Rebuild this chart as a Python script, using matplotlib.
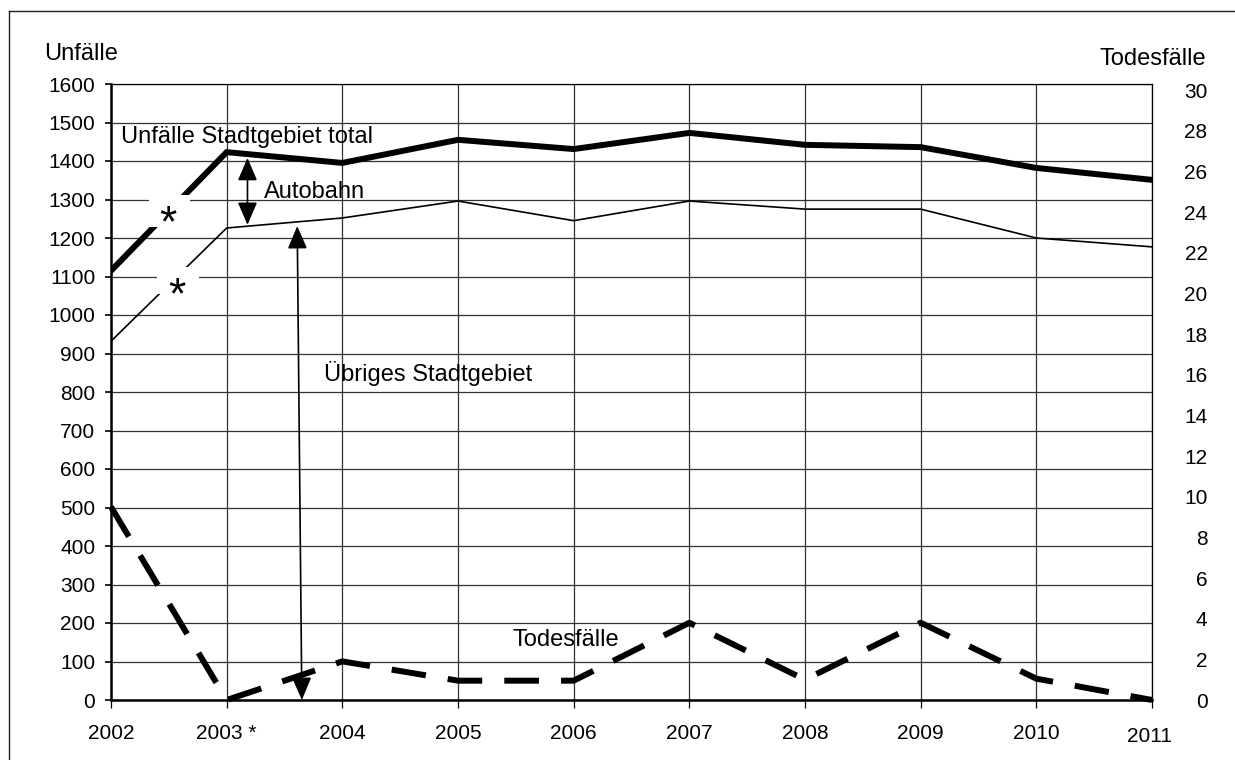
import matplotlib.pyplot as plt
from matplotlib.patches import Rectangle
from matplotlib.lines import Line2D
from matplotlib.transforms import ScaledTranslation
import numpy as np

plt.rcParams['font.family'] = ['Liberation Sans', 'DejaVu Sans']

years = [2002, 2003, 2004, 2005, 2006, 2007, 2008, 2009, 2010, 2011]
year_labels = ['2002', '2003 *', '2004', '2005', '2006', '2007', '2008', '2009', '2010', '2011']
unfaelle_total = [1115, 1423, 1395, 1455, 1431, 1473, 1442, 1436, 1382, 1351]
unfaelle_uebrige = [932, 1226, 1252, 1296, 1245, 1296, 1275, 1275, 1200, 1177]
todesfaelle = [9.5, 0, 1.9, 0.95, 0.95, 3.8, 1.0, 3.8, 1.05, 0]

W, H = 1235, 760
fig = plt.figure(figsize=(W / 100, H / 100), dpi=100)

# outer frame (only left and top edge visible)
fig.add_artist(Line2D([9 / W, 9 / W], [0, 1 - 11 / H], transform=fig.transFigure, color='#222222', lw=1))
fig.add_artist(Line2D([9 / W, 1], [1 - 11 / H, 1 - 11 / H], transform=fig.transFigure, color='#222222', lw=1))

ax = fig.add_axes([111 / W, 60 / H, (1152 - 111) / W, 616 / H])
ax.set_xlim(2002, 2011)
ax.set_ylim(0, 1600)
ax.set_yticks(np.arange(0, 1601, 100))
ax.set_xticks(years)
ax.set_xticklabels(year_labels)

ax.grid(True, color='#333333', lw=0.9)
ax.set_axisbelow(True)
for side in ['left', 'bottom']:
    ax.spines[side].set_linewidth(1.8)
for side in ['top', 'right']:
    ax.spines[side].set_linewidth(0.9)

ax.tick_params(axis='y', direction='out', length=4.3, width=1.2, pad=7, labelsize=15)
ax.tick_params(axis='x', direction='out', length=5.5, width=0.9, pad=12, labelsize=15)
last = ax.get_xticklabels()[-1]
last.set_transform(last.get_transform() + ScaledTranslation(-3 / 100, -3 / 100, fig.dpi_scale_trans))

ax.plot(years, unfaelle_total, color='black', lw=4.3, solid_joinstyle='miter', zorder=2)
ax.plot(years, unfaelle_uebrige, color='black', lw=1.2, zorder=2)

# white boxes with asterisks over the 2002-2003 segment
ax.add_patch(Rectangle((2002.33, 1229), 0.35, 83, fc='white', ec='none', zorder=3))
ax.add_patch(Rectangle((2002.40, 1055), 0.36, 70, fc='white', ec='none', zorder=3))
ax.text(2002.49, 1204, '*', fontsize=32, ha='center', va='baseline', zorder=4)
ax.text(2002.57, 1016, '*', fontsize=32, ha='center', va='baseline', zorder=4)

arrow = dict(arrowstyle='<|-|>,head_length=0.7,head_width=0.3', color='black', lw=1.2,
             shrinkA=0, shrinkB=0, mutation_scale=20)
ax.annotate('', xy=(2003.18, 1408), xytext=(2003.18, 1234), arrowprops=arrow, zorder=5)
ax.annotate('', xy=(2003.61, 1231), xytext=(2003.65, 0), arrowprops=arrow, zorder=5)

ax.text(2002.09, 1463, 'Unfälle Stadtgebiet total', fontsize=17, va='center', ha='left')
ax.text(2003.32, 1320, 'Autobahn', fontsize=17, va='center', ha='left')
ax.text(2003.84, 847, 'Übriges Stadtgebiet', fontsize=17, va='center', ha='left')
ax.text(2005.47, 156, 'Todesfälle', fontsize=17, va='center', ha='left')

ax2 = ax.twinx()
ax2.set_ylim(0, 30.3)
ax2.set_yticks(np.arange(0, 31, 2))
ax2.tick_params(axis='y', length=0, pad=40, labelsize=15)
for lab in ax2.get_yticklabels():
    lab.set_horizontalalignment('right')
for side in ax2.spines:
    ax2.spines[side].set_visible(False)
ax2.plot(years, todesfaelle, color='black', lw=4.3, dashes=(5.8, 3.7), dash_capstyle='butt', clip_on=False)

fig.text(44 / W, 1 - 60 / H, 'Unfälle', fontsize=17, ha='left', va='baseline')
fig.text(1206 / W, 1 - 65 / H, 'Todesfälle', fontsize=17, ha='right', va='baseline')

plt.savefig('out.png', dpi=100)
